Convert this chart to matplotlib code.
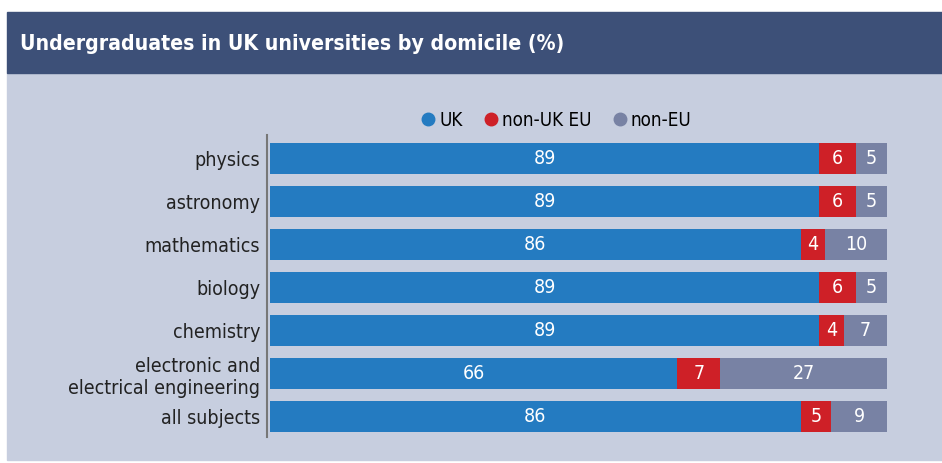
import matplotlib.pyplot as plt
from matplotlib.patches import Rectangle
import numpy as np

subjects = ['physics', 'astronomy', 'mathematics', 'biology', 'chemistry',
            'electronic and\nelectrical engineering', 'all subjects']
uk = [89, 89, 86, 89, 89, 66, 86]
eu = [6, 6, 4, 6, 4, 7, 5]
non_eu = [5, 5, 10, 5, 7, 27, 9]
series = ['UK', 'non-UK EU', 'non-EU']
colors = ['#247bc1', '#ce2027', '#7882a4']

plt.rcParams['font.family'] = 'DejaVu Sans'
plt.rcParams['font.stretch'] = 'condensed'

W, H = 942, 463
fig = plt.figure(figsize=(W / 100, H / 100), dpi=100)
fig.patch.set_facecolor('white')

# panel + header
fig.patches.append(Rectangle((7 / W, 3 / H), 935 / W, 1 - 3 / H - 73 / H,
                             transform=fig.transFigure, color='#c7cedf', zorder=-2))
fig.patches.append(Rectangle((7 / W, 1 - 73 / H), 935 / W, 61 / H,
                             transform=fig.transFigure, color='#3d5078', zorder=-1))
fig.text(20 / W, 1 - 44 / H, 'Undergraduates in UK universities by domicile (%)',
         color='white', fontsize=15.2, fontweight='bold', fontstretch='condensed',
         va='center', ha='left')

ax = fig.add_axes([270 / W, 1 - 437 / H, 617 / W, 302 / H])
ax.set_zorder(2)
ax.set_facecolor('none')
y = np.arange(len(subjects))
left = np.zeros(len(subjects))
for vals, c in zip([uk, eu, non_eu], colors):
    vals = np.array(vals)
    ax.barh(y, vals, left=left, height=0.72, color=c, linewidth=0)
    for yi, l, v in zip(y, left, vals):
        ax.text(l + v / 2, yi, str(v), ha='center', va='center', color='white',
                fontsize=14, fontstretch='condensed')
    left = left + vals

ax.set_xlim(0, 100)
ax.set_ylim(6.465, -0.535)
ax.set_yticks(y)
ax.set_yticklabels(subjects, linespacing=0.95)
ax.set_xticks([])
ax.tick_params(axis='y', length=0, pad=5, labelsize=14, labelcolor='#222222')
for lab in ax.get_yticklabels():
    lab.set_fontstretch('condensed')
for s in ['top', 'right', 'bottom']:
    ax.spines[s].set_visible(False)
ax.spines['left'].set_color('#777777')
ax.spines['left'].set_linewidth(1.5)
ax.spines['left'].set_position(('outward', 2))

# legend
handles = [plt.Line2D([], [], marker='o', ls='none', color=c, markersize=9) for c in colors]
fig.legend(handles, series, loc='center', bbox_to_anchor=(555 / W, 1 - 120 / H),
           ncol=3, frameon=False, handletextpad=0.1, columnspacing=1.0,
           handlelength=1.0, prop={'size': 13.5, 'stretch': 'condensed'})

fig.savefig('out.png', dpi=100, facecolor='white')
